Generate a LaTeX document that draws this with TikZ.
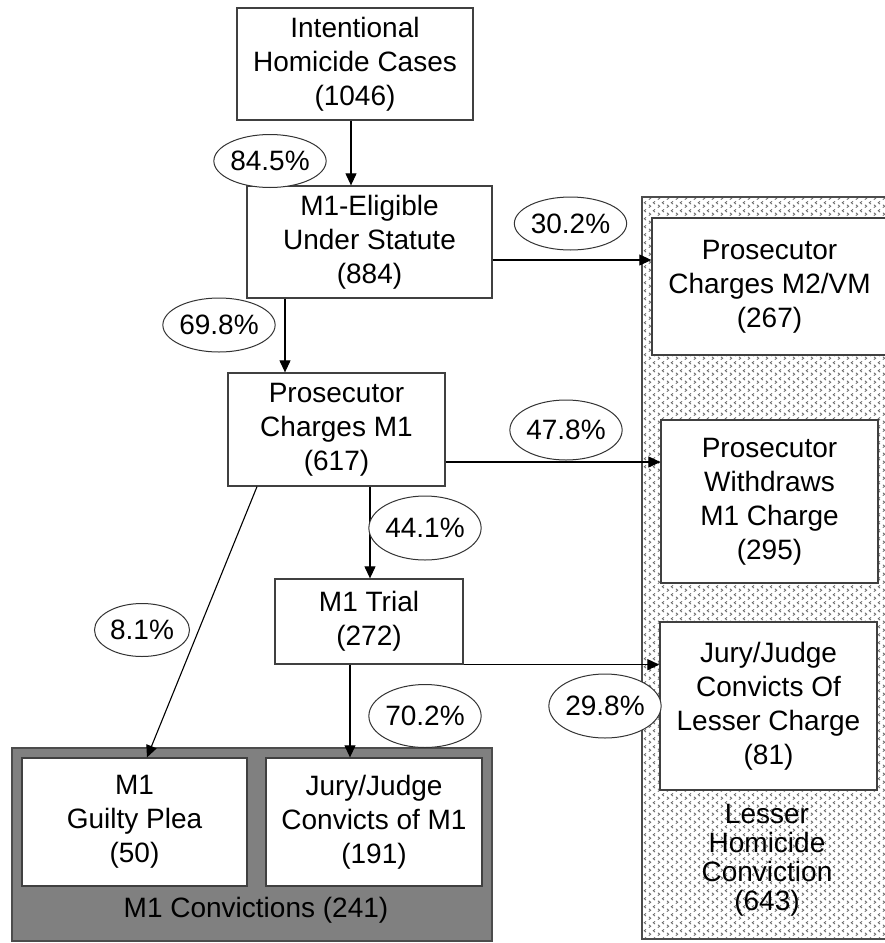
\documentclass[tikz,border=0pt]{standalone}
\usepackage{fontspec}
\setmainfont{Liberation Sans}
\usetikzlibrary{shapes.geometric,arrows.meta,patterns,calc}

% small chevron texture for the lesser-conviction panel
\pgfdeclarepatternformonly{chevrons}{\pgfqpoint{0pt}{0pt}}{\pgfqpoint{9pt}{7.5pt}}{\pgfqpoint{9pt}{7.5pt}}{%
  \pgfsetlinewidth{0.85pt}%
  \pgfpathmoveto{\pgfqpoint{1pt}{0.4pt}}\pgfpathlineto{\pgfqpoint{3pt}{1.9pt}}\pgfpathlineto{\pgfqpoint{1pt}{3.4pt}}%
  \pgfpathmoveto{\pgfqpoint{7.8pt}{4.1pt}}\pgfpathlineto{\pgfqpoint{5.8pt}{5.6pt}}\pgfpathlineto{\pgfqpoint{7.8pt}{7.1pt}}%
  \pgfusepath{stroke}}

\begin{document}
\begin{tikzpicture}[x=1pt,y=-1pt,
  every node/.style={font=\fontsize{28}{34}\selectfont},
  stage/.style={draw=black!75, line width=1.3pt, fill=white, align=center, inner sep=0pt},
  share/.style={draw=black!80, line width=1pt, fill=white, ellipse, inner sep=0pt},
  flow/.style={draw=black, line width=1.1pt, -{Triangle[length=12pt,width=11pt]}}]

\useasboundingbox (0,0) rectangle (885,943);
\fill[white] (0,0) rectangle (885,943);

% lesser homicide conviction panel
\draw[line width=1.2pt, draw=black!70, pattern=chevrons, pattern color=black!60]
  (642,197) rectangle (887,939);
\node[align=center, font=\fontsize{28}{29}\selectfont] (lhc) at (767,860)
  {Lesser\\Homicide\\Conviction\\(643)};

% M1 convictions panel
\draw[draw=black!70, line width=1.2pt, fill=black!50] (12,748) rectangle (492,941);
\node (m1c) at (256,910) {M1 Convictions (241)};

% stages
\node[stage, minimum width=236pt, minimum height=112pt] (A) at (355,64)
  {Intentional\\Homicide Cases\\(1046)};
\node[stage, minimum width=245pt, minimum height=112pt] (B) at (369.5,242)
  {M1-Eligible\\Under Statute\\(884)};
\node[stage, minimum width=217pt, minimum height=113pt] (C) at (336.5,429.5)
  {Prosecutor\\Charges M1\\(617)};
\node[stage, minimum width=188pt, minimum height=85pt] (F) at (369,621.5)
  {M1 Trial\\(272)};
\node[stage, minimum width=225pt, minimum height=128pt] (G1) at (134.5,822)
  {M1\\Guilty Plea\\(50)};
\node[stage, minimum width=216pt, minimum height=128pt] (G2) at (374,822)
  {Jury/Judge\\Convicts of M1\\(191)};
\node[stage, minimum width=235pt, minimum height=137pt] (M) at (769.5,286.5)
  {Prosecutor\\Charges M2/VM\\(267)};
\node[stage, minimum width=217pt, minimum height=163pt] (D) at (769.5,501.5)
  {Prosecutor\\Withdraws\\M1 Charge\\(295)};
\node[stage, minimum width=217pt, minimum height=168pt] (E) at (768.5,706)
  {Jury/Judge\\Convicts Of\\Lesser Charge\\(81)};

% flows
\draw[flow] ([xshift=-4pt]A.south) -- ([xshift=-4pt]A.south |- B.north);
\draw[flow] ([xshift=-84.5pt]B.south) -- ([xshift=-84.5pt]B.south |- C.north);
\draw[flow] ([yshift=-18pt]B.east) -- ([yshift=-18pt]B.east -| M.west);
\draw[flow] ([yshift=-32.5pt]C.east) -- ([yshift=-32.5pt]C.east -| D.west);
\draw[flow] ([xshift=33.5pt]C.south) -- ([xshift=33.5pt]C.south |- F.north);
\draw[flow] ([xshift=-79.5pt]C.south) -- ([xshift=12.5pt]G1.north);
\draw[flow] (F.south east) -- (F.south east -| E.west);
\draw[flow] ([xshift=-19pt]F.south) -- ([xshift=-19pt]F.south |- G2.north);

% shares
\node[share, minimum width=104pt, minimum height=53pt] (p845) at (270,161) {84.5\%};
\node[share, minimum width=105pt, minimum height=53pt] (p302) at (570.5,223.5) {30.2\%};
\node[share, minimum width=95pt, minimum height=54pt] (p698) at (219,325) {69.8\%};
\node[share, minimum width=95pt, minimum height=60pt] (p478) at (566,430) {47.8\%};
\node[share, minimum width=103pt, minimum height=64pt] (p441) at (425,528) {44.1\%};
\node[share, minimum width=95pt, minimum height=53pt] (p81) at (142,630) {8.1\%};
\node[share, minimum width=112pt, minimum height=63pt] (p702) at (425,716) {70.2\%};
\node[share, minimum width=95pt, minimum height=64pt] (p298) at (605,706) {29.8\%};
\end{tikzpicture}
\end{document}
